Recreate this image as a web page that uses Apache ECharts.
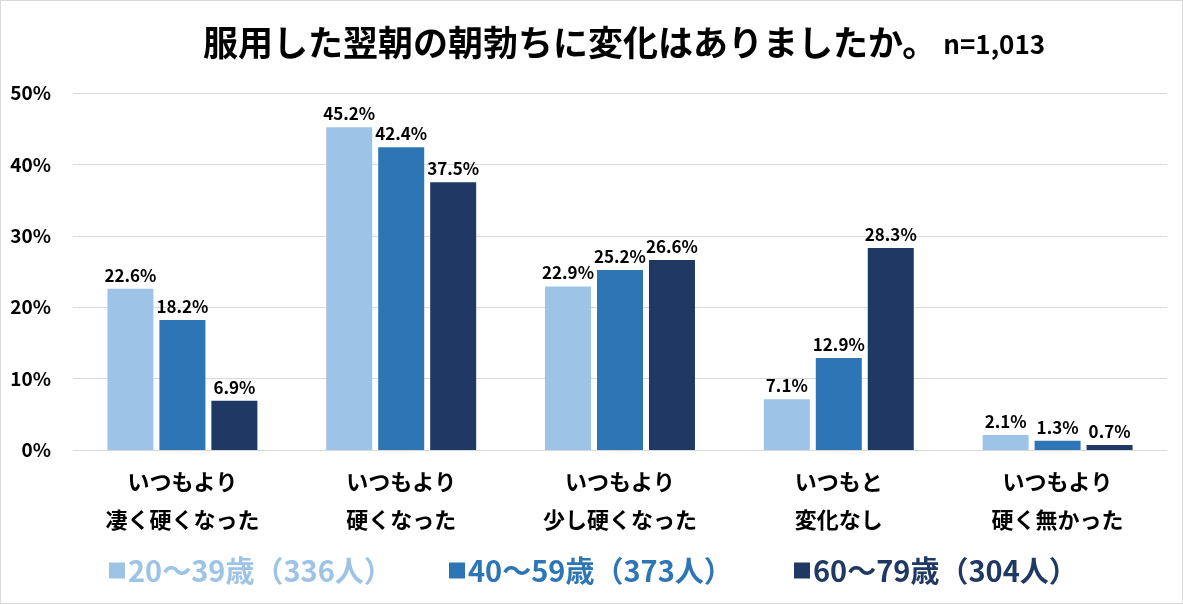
<!DOCTYPE html>
<html>
<head>
<meta charset="utf-8">
<script src="https://cdn.jsdelivr.net/npm/echarts@6/dist/echarts.min.js"></script>
<style>
  html, body { margin: 0; padding: 0; background: #fff; }
  #chart { width: 1181px; height: 602px; border: 1px solid #d9d9d9; }
</style>
</head>
<body>
<div id="chart"></div>
<script>
const categories = [
  "いつもより\n凄く硬くなった",
  "いつもより\n硬くなった",
  "いつもより\n少し硬くなった",
  "いつもと\n変化なし",
  "いつもより\n硬く無かった"
];
const seriesNames = ["20～39歳（336人）", "40～59歳（373人）", "60～79歳（304人）"];
const age20to39 = [22.6, 45.2, 22.9, 7.1, 2.1];
const age40to59 = [18.2, 42.4, 25.2, 12.9, 1.3];
const age60to79 = [6.9, 37.5, 26.6, 28.3, 0.7];
const colors = ["#9dc3e6", "#2e75b6", "#203864"];

const font = "'Noto Sans CJK JP', 'Noto Sans', sans-serif";
const chart = echarts.init(document.getElementById("chart"));

const makeSeries = (name, data, color) => ({
  name,
  type: "bar",
  data,
  barWidth: 46,
  barGap: "13%",
  itemStyle: { color },
  label: {
    show: true,
    position: "top",
    distance: 5,
    formatter: (p) => p.value.toFixed(1) + "%",
    color: "#000",
    fontFamily: font,
    fontWeight: "bold",
    fontSize: 17,
  },
});

const legendAt = (idx, left) => ({
  data: [{ name: seriesNames[idx], textStyle: { color: colors[idx] } }],
  left,
  top: 550,
  icon: "rect",
  itemWidth: 16,
  itemHeight: 16,
  itemGap: 0,
  textStyle: { fontFamily: font, fontWeight: "bold", fontSize: 29, padding: [0, 0, 0, -2] },
});

chart.setOption({
  animation: false,
  title: {
    text: "{a|服用した翌朝の朝勃ちに変化はありましたか。}{b|n=1,013}",
    left: 197,
    top: 19,
    textStyle: {
      rich: {
        a: { fontFamily: font, fontWeight: "bold", fontSize: 35, color: "#000" },
        b: { fontFamily: font, fontWeight: "bold", fontSize: 26, color: "#000", padding: [4, 0, 0, 6] },
      },
    },
  },
  legend: [legendAt(0, 103), legendAt(1, 443), legendAt(2, 788)],
  grid: { left: 72, right: 15, top: 92, bottom: 153 },
  xAxis: {
    type: "category",
    data: categories,
    axisLine: { lineStyle: { color: "#d9d9d9" } },
    axisTick: { show: false },
    axisLabel: {
      margin: 13,
      color: "#000",
      fontFamily: font,
      fontWeight: "bold",
      fontSize: 22,
      lineHeight: 38,
    },
  },
  yAxis: {
    type: "value",
    min: 0,
    max: 50,
    interval: 10,
    axisLabel: {
      formatter: "{value}%",
      margin: 22,
      color: "#000",
      fontFamily: font,
      fontWeight: "bold",
      fontSize: 19,
    },
    splitLine: { lineStyle: { color: "#d9d9d9" } },
  },
  series: [
    makeSeries(seriesNames[0], age20to39, colors[0]),
    makeSeries(seriesNames[1], age40to59, colors[1]),
    makeSeries(seriesNames[2], age60to79, colors[2]),
  ],
});
</script>
</body>
</html>
